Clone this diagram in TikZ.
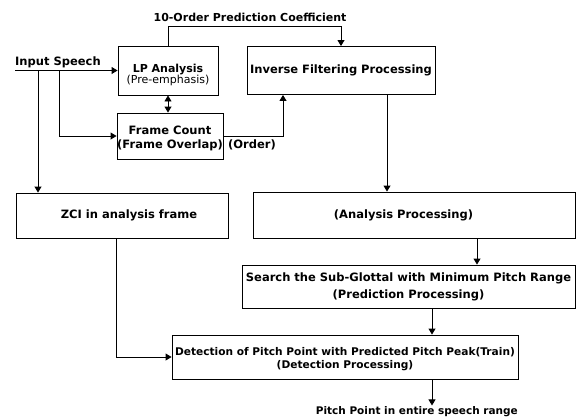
\documentclass[tikz,border=0pt]{standalone}
\usepackage{fontspec}
\setmainfont{DejaVu Sans}
\usetikzlibrary{arrows.meta,calc}
\newcommand{\lowerby}[2]{\raisebox{-#1}[\height][\depth]{#2}}
\begin{document}
\begin{tikzpicture}[x=1pt,y=-1pt,
  box/.style={draw,line width=0.9pt,rectangle,inner sep=0pt,align=center,font=\fontsize{11.5}{15}\selectfont\bfseries},
  lbl/.style={inner sep=0pt,font=\fontsize{11.5}{13}\selectfont\bfseries},
  conn/.style={line width=0.9pt},
  arr/.style={conn,-{Triangle[width=7pt,length=6pt]}}]
\useasboundingbox (0,0) rectangle (577,418);
% boxes
\node[box,minimum width=100pt,minimum height=49pt,font=\fontsize{11}{12}\selectfont\bfseries] (lp) at (168,70.5)
  {\lowerby{5pt}{\begin{tabular}{@{}c@{}}LP Analysis\\[-1pt] {\mdseries\fontsize{11}{12}\selectfont (Pre-emphasis)}\end{tabular}}};
\node[box,minimum width=106pt,minimum height=46pt] (fc) at (170,136) {\lowerby{2pt}{\begin{tabular}{@{}c@{}}Frame Count\\[-1pt] (Frame Overlap)\end{tabular}}};
\node[box,minimum width=188pt,minimum height=48pt] (inv) at (341,70.5) {Inverse Filtering Processing};
\node[box,minimum width=212pt,minimum height=45pt] (zci) at (122,215.5) {\hspace*{14pt}ZCI in analysis frame};
\node[box,minimum width=322pt,minimum height=46pt] (ana) at (414,215) {(Analysis Processing)\hspace*{21pt}};
\node[box,minimum width=333pt,minimum height=43pt,font=\fontsize{11.5}{17}\selectfont\bfseries] (srch) at (408.5,286.5) {Search the Sub-Glottal with Minimum Pitch Range\\(Prediction Processing)};
\node[box,minimum width=346pt,minimum height=44pt,font=\fontsize{10.6}{14}\selectfont\bfseries] (det) at (345,357) {\lowerby{2pt}{\begin{tabular}{@{}c@{}}Detection of Pitch Point with Predicted Pitch Peak(Train)\\[-1pt] (Detection Processing)\end{tabular}}};
% labels
\node[lbl,font=\fontsize{11}{13}\selectfont\bfseries] (tcoef) at (250,17) {10-Order Prediction Coefficient};
\node[lbl,anchor=west] (tin) at (15,62) {Input Speech};
\node[lbl] (tord) at (252,145) {(Order)};
\node[lbl,anchor=east,font=\fontsize{10.5}{13}\selectfont\bfseries] (tout) at (518,412) {Pitch Point in entire speech range};
% coordinates
\coordinate (inL) at (15,70.5);
\coordinate (b1) at (38,70.5);
\coordinate (b2) at (59,70.5);
\coordinate (cOrd) at (283,0);
\coordinate (cCoef) at (168,26);
\coordinate (c1) at (387,0);
\coordinate (c2) at (477,0);
\coordinate (c3) at (432,0);
\coordinate (c4) at (116,0);
% connectors
\draw[arr] (inL) -- (lp.west);
\draw[arr] (b1) -- (b1 |- zci.north);
\draw[arr] (b2) |- (fc.west);
\draw[conn,{Triangle[width=7pt,length=6pt]}-{Triangle[width=7pt,length=6pt]}] (lp.south) -- (lp.south |- fc.north);
\draw[arr] (lp.north) -- (cCoef) -| (inv.north);
\draw[arr] (fc.east) -| (inv.south -| cOrd);
\draw[arr] (inv.south -| c1) -- (ana.north -| c1);
\draw[arr] (ana.south -| c2) -- (srch.north -| c2);
\draw[arr] (srch.south -| c3) -- (det.north -| c3);
\draw[arr] (zci.south -| c4) |- (det.west);
\draw[arr] (det.south -| c3) -- ++(0,26);
\end{tikzpicture}
\end{document}
